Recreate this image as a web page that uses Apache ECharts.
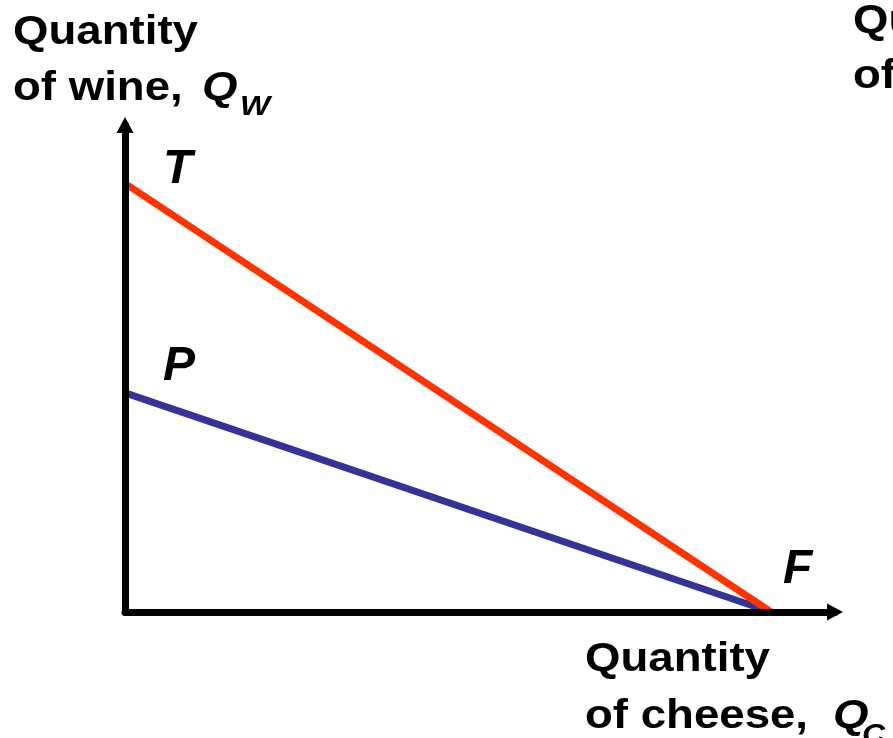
<!DOCTYPE html>
<html>
<head>
<meta charset="utf-8">
<script src="https://cdn.jsdelivr.net/npm/echarts@6/dist/echarts.min.js"></script>
<style>
  html, body { margin: 0; padding: 0; background: #fff; }
  #chart { width: 893px; height: 738px; }
</style>
</head>
<body>
<div id="chart"></div>
<script>
// 数据：两条生产可能性曲线，都终止于 F
const xRange = [0, 100];
const yRange = [0, 100];
const lineT = [[0, 88], [91, 0]];   // T -> F (红线)
const lineP = [[0, 45], [91, 0]];   // P -> F (蓝线)
const pointLabels = ['T', 'P', 'F'];

const FONT = '"Liberation Sans", Arial, sans-serif';
const SX = 1.14;

// baseline 是字的基线位置，换算成文字框顶部
function txt(x, baseline, text, size, italic, scale) {
    return {
        type: 'text',
        x: x,
        y: baseline - Math.round(size * 0.7),
        scaleX: scale,
        style: {
            text: text,
            fill: '#000',
            font: (italic ? 'italic ' : '') + 'bold ' + size + 'px ' + FONT,
            verticalAlign: 'top',
            align: 'left'
        },
        z: 10
    };
}

const chart = echarts.init(document.getElementById('chart'));

const option = {
    animation: false,
    backgroundColor: '#fff',
    grid: { left: 125, right: 58, top: 125, bottom: 126 },
    xAxis: {
        type: 'value',
        min: xRange[0],
        max: xRange[1],
        z: 5,
        axisLine: {
            show: true,
            symbol: ['none', 'triangle'],
            symbolSize: [17, 16],
            lineStyle: { color: '#000', width: 7 }
        },
        axisTick: { show: false },
        axisLabel: { show: false },
        splitLine: { show: false }
    },
    yAxis: {
        type: 'value',
        min: yRange[0],
        max: yRange[1],
        z: 5,
        axisLine: {
            show: true,
            symbol: ['none', 'triangle'],
            symbolSize: [17, 16],
            lineStyle: { color: '#000', width: 7 }
        },
        axisTick: { show: false },
        axisLabel: { show: false },
        splitLine: { show: false }
    },
    series: [
        {
            type: 'line',
            data: lineT,
            symbol: 'none',
            z: 2,
            lineStyle: { color: '#ff3300', width: 7 }
        },
        {
            type: 'line',
            data: lineP,
            symbol: 'none',
            z: 1,
            lineStyle: { color: '#333399', width: 7 }
        }
    ],
    graphic: [
        // 纵轴标题
        txt(13, 41, 'Quantity', 40, false, SX),
        txt(13, 97, 'of wine,', 40, false, SX),
        txt(202, 97, 'Q', 40, true, SX),
        txt(240, 113, 'W', 28, true, SX),
        // 右上角被截断的标题
        txt(853, 30, 'Quantity', 40, false, SX),
        txt(853, 85, 'of wine,', 40, false, SX),
        // 横轴标题
        txt(585, 668, 'Quantity', 40, false, SX),
        txt(585, 725, 'of cheese,', 40, false, SX),
        txt(833, 725, 'Q', 40, true, SX),
        txt(862, 741, 'C', 28, true, SX),
        // 点标注
        txt(163, 180, pointLabels[0], 48, true, 1),
        txt(163, 377, pointLabels[1], 48, true, 1),
        txt(783, 580, pointLabels[2], 48, true, 1)
    ]
};

chart.setOption(option);
</script>
</body>
</html>
